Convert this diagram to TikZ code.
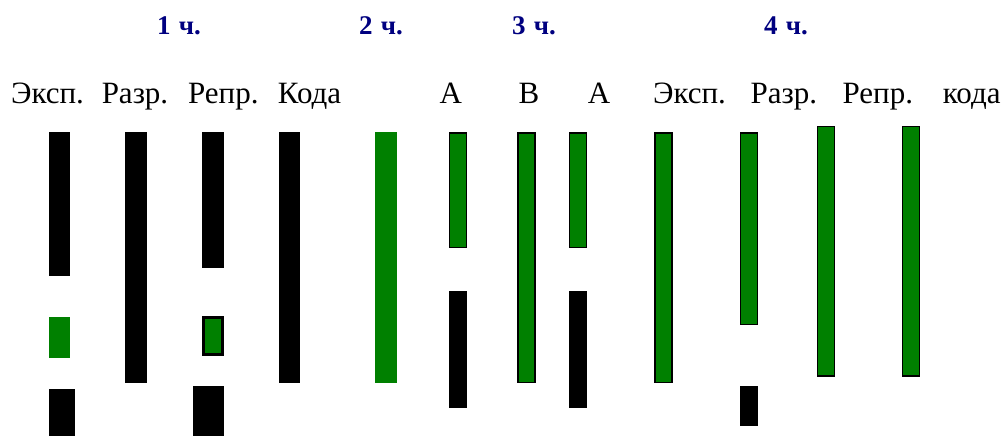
\documentclass[tikz,border=0pt]{standalone}
\usepackage{fontspec}
\setmainfont{Liberation Serif}
\definecolor{grn}{RGB}{0,128,0}
\definecolor{navy}{RGB}{0,0,128}
\begin{document}
\begin{tikzpicture}[x=1pt,y=-1pt,
  blk/.style={fill=black,draw=none},
  grnbar/.style={fill=grn,draw=none},
  gb/.style={fill=grn,draw=black,line width=1.3pt},
  bb/.style={fill=black,draw=black,line width=1.3pt},
  lbl/.style={anchor=base,inner sep=0pt,font=\fontsize{31}{31}\selectfont},
  head/.style={anchor=base,inner sep=0pt,text=navy,font=\fontsize{27}{27}\selectfont\bfseries}]
\path[fill=white] (0,0) rectangle (1007,436);
\useasboundingbox (0,0) rectangle (1007,436);
% headings
\node[head] (h1) at (179,35) {1\hspace{0.3em}ч.};
\node[head] (h2) at (381,35) {2\hspace{0.3em}ч.};
\node[head] (h3) at (534,35) {3\hspace{0.3em}ч.};
\node[head] (h4) at (786,35) {4\hspace{0.3em}ч.};
% labels
\node[lbl] (l1) at (47.5,103.3) {Эксп.};
\node[lbl] (l2) at (135,103.3) {Разр.};
\node[lbl] (l3) at (223.3,103.3) {Репр.};
\node[lbl] (l4) at (309.5,103.3) {Кода};
\node[lbl] (l5) at (450.7,103.3) {А};
\node[lbl] (l6) at (529,103.3) {В};
\node[lbl] (l7) at (599,103.3) {А};
\node[lbl] (l8) at (689.5,103.3) {Эксп.};
\node[lbl] (l9) at (783.8,103.3) {Разр.};
\node[lbl] (l10) at (877.8,103.3) {Репр.};
\node[lbl] (l11) at (971.7,103.3) {кода};
% part 1 bars
\path[blk] (49,131.7) rectangle (70.3,275.7);
\path[grnbar] (49,317.3) rectangle (70.3,357.7);
\path[blk] (49,389.3) rectangle (75,440);
\path[blk] (125.3,131.7) rectangle (147,383.3);
\path[blk] (202.3,131.7) rectangle (223.7,268);
\path[bb] (203,317) rectangle (223,355.6);
\path[fill=grn] (205,319.3) rectangle (220.7,353.3);
\path[blk] (193,386) rectangle (223.7,440);
\path[blk] (279.3,131.7) rectangle (300.3,383.3);
% part 2
\path[grnbar] (375.3,131.7) rectangle (396.7,383.3);
% part 3
\path[gb] (449.65,132.95) rectangle (466.65,247.65);
\path[blk] (449,291) rectangle (467.3,407.7);
\path[gb] (517.95,132.95) rectangle (535.05,382.65);
\path[gb] (569.35,132.95) rectangle (586.35,247.65);
\path[blk] (568.7,291) rectangle (587,407.7);
% part 4
\path[gb] (654.95,132.95) rectangle (672.05,382.65);
\path[gb] (740.35,132.95) rectangle (757.35,324.65);
\path[blk] (739.7,386) rectangle (758,426.3);
\path[gb] (817.35,126.35) rectangle (834.35,376.05);
\path[gb] (902.65,126.35) rectangle (919.65,376.05);
\end{tikzpicture}
\end{document}
